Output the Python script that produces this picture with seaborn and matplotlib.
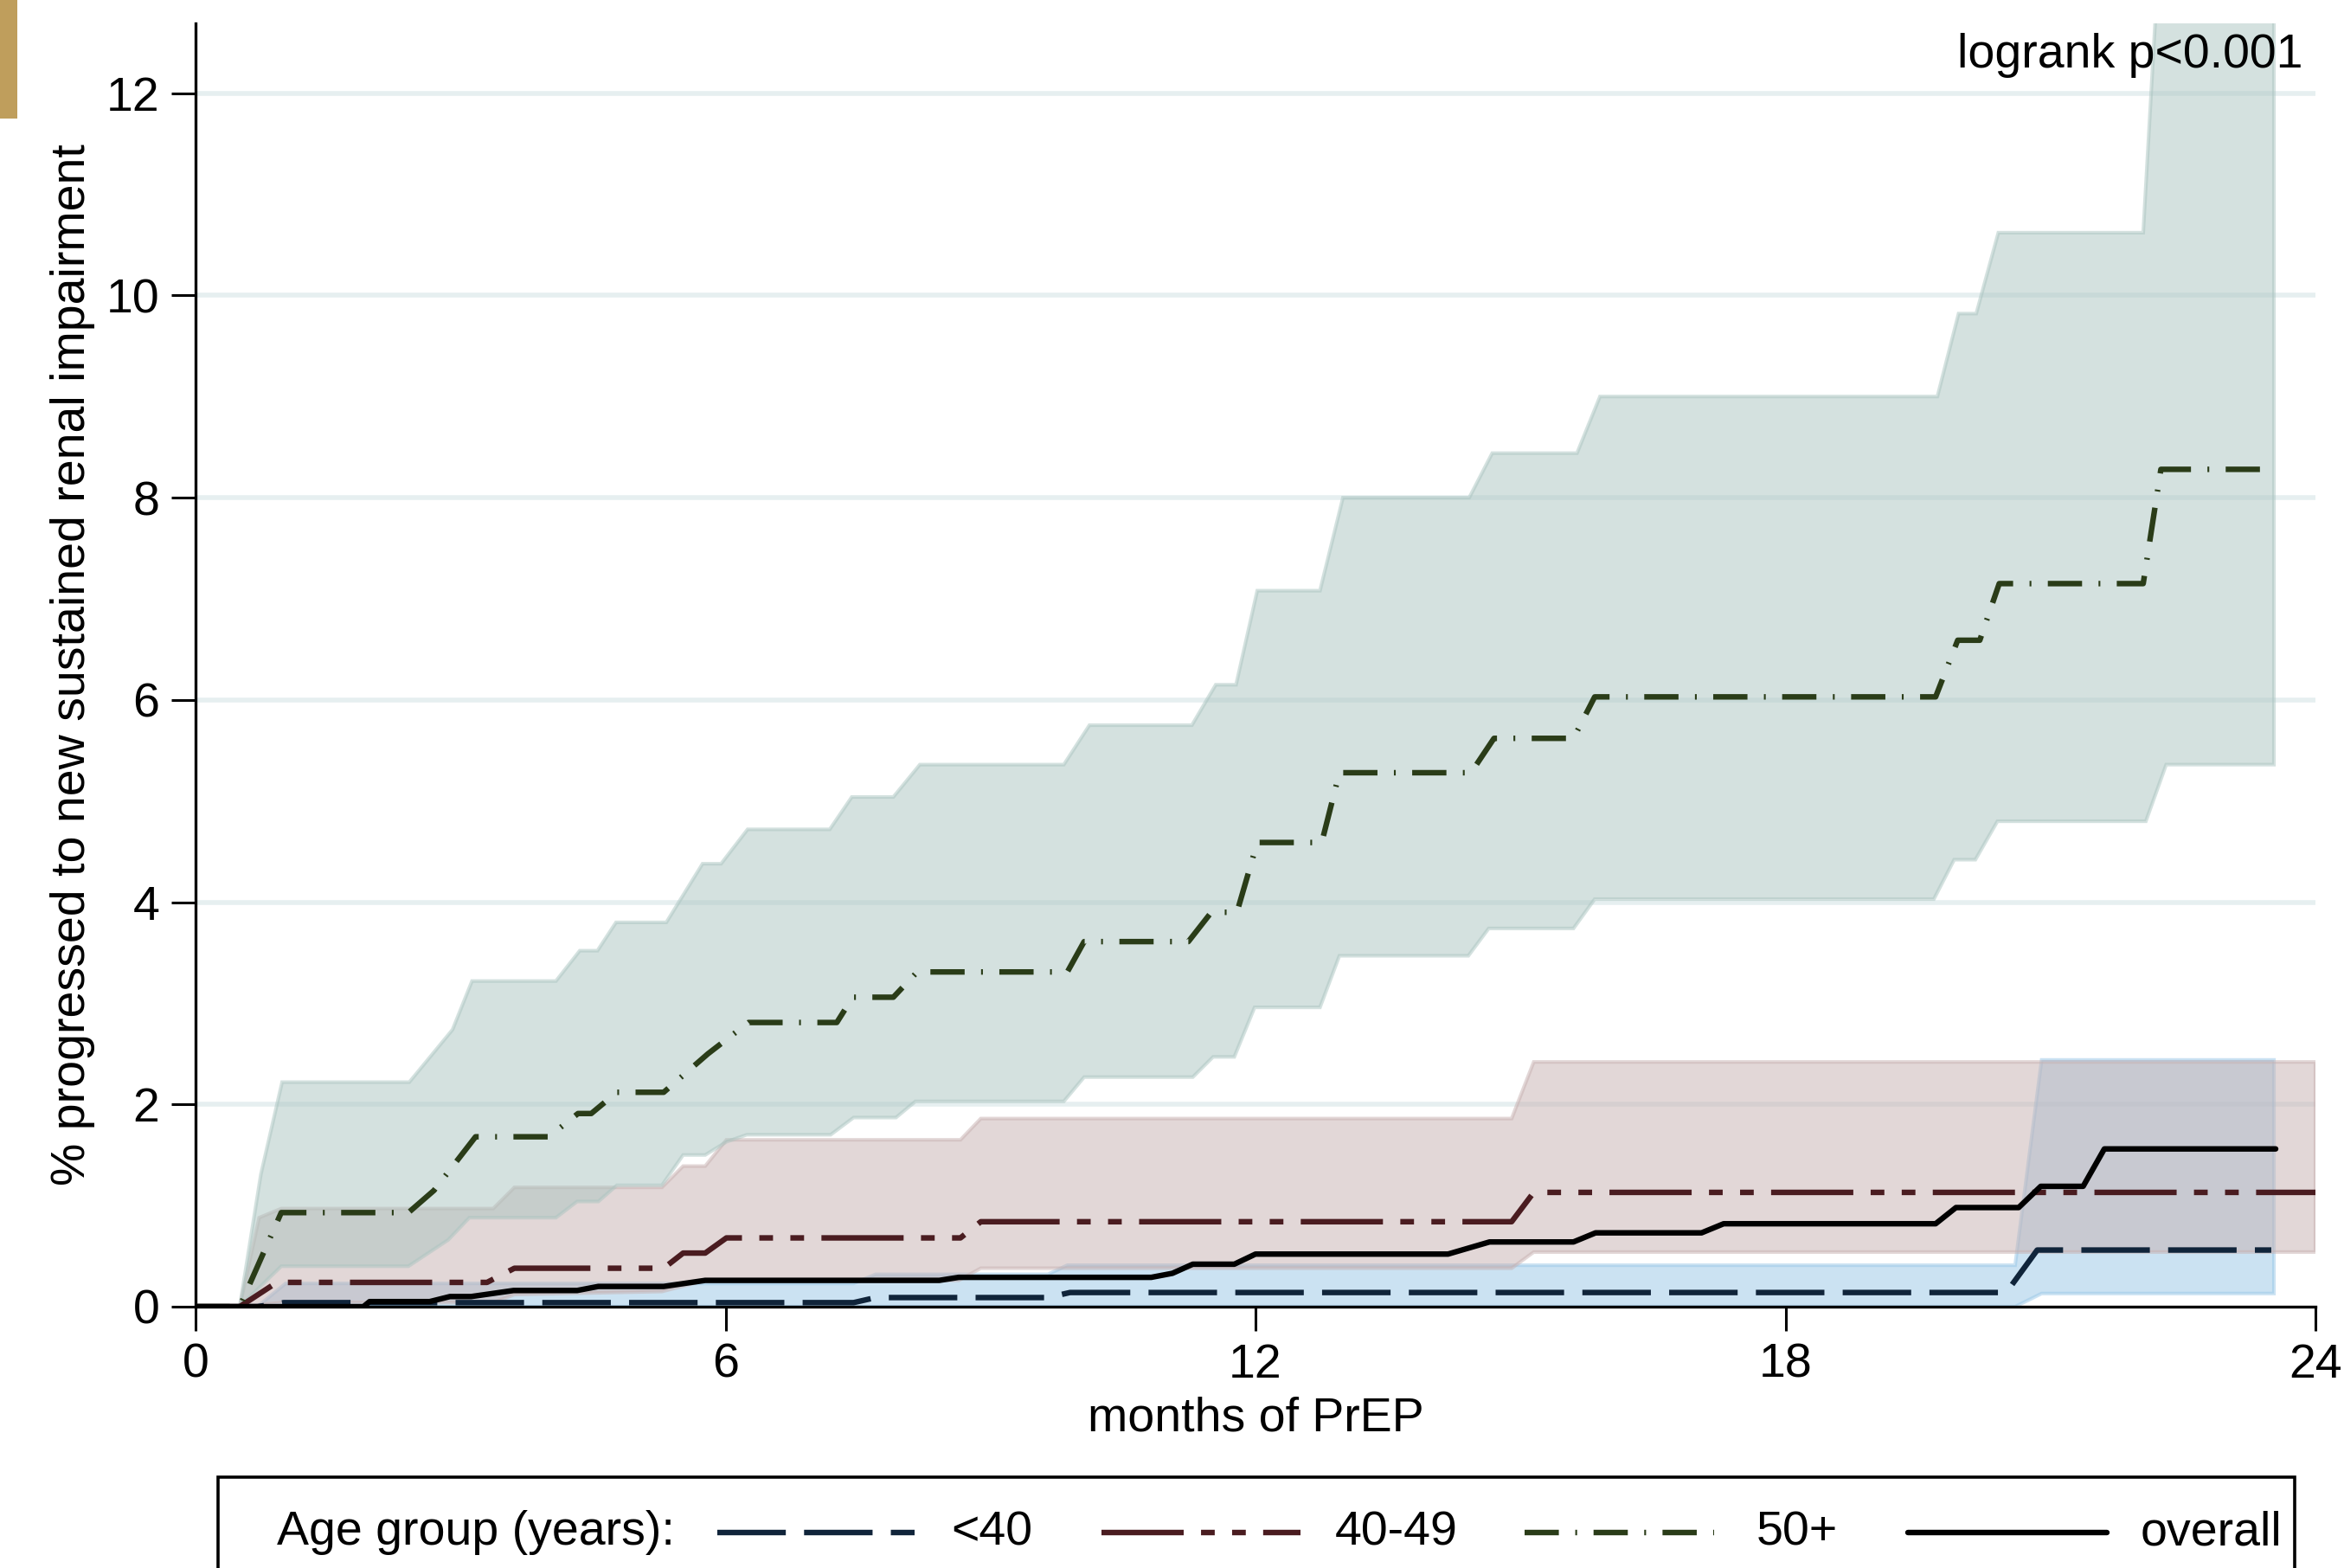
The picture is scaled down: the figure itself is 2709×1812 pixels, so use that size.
import matplotlib
matplotlib.use("Agg")
import matplotlib.pyplot as plt
import seaborn as sns
from matplotlib.lines import Line2D
from matplotlib.patches import Rectangle

# --- data ---
# Kaplan-Meier failure estimates, % progressed, by months of PrEP
time_lt40 = [0, 0.7, 1.0, 7.45, 7.7, 9.65, 9.9, 20.5, 20.85, 23.5]
pct_lt40 = [0, 0, 0.04, 0.04, 0.09, 0.09, 0.14, 0.14, 0.56, 0.56]

time_40s = [0, 0.5, 0.92, 3.3, 3.61, 5.3, 5.52, 5.77, 6.01, 8.66, 8.89, 14.9, 15.15, 24.0]
pct_40s = [0, 0, 0.24, 0.24, 0.38, 0.38, 0.53, 0.53, 0.68, 0.68, 0.84, 0.84, 1.13, 1.13]

time_50p = [0, 0.5, 0.97, 2.41, 2.7, 3.17, 4.0, 4.33, 4.48, 4.77, 5.3, 5.8, 6.26, 7.26,
            7.44, 7.9, 8.17, 9.87, 10.06, 11.24, 11.5, 11.79, 12.02, 12.75, 12.95, 14.44,
            14.7, 15.6, 15.84, 19.7, 19.95, 20.2, 20.42, 22.05, 22.25, 23.5]
pct_50p = [0, 0, 0.93, 0.93, 1.15, 1.68, 1.68, 1.91, 1.91, 2.12, 2.12, 2.5, 2.81, 2.81,
           3.06, 3.06, 3.31, 3.31, 3.61, 3.61, 3.9, 3.9, 4.59, 4.59, 5.28, 5.28,
           5.62, 5.62, 6.03, 6.03, 6.59, 6.59, 7.15, 7.15, 8.28, 8.28]

time_all = [0, 1.9, 1.97, 2.65, 2.88, 3.12, 3.6, 4.32, 4.56, 5.3, 5.77, 8.42, 8.64, 10.82,
            11.06, 11.29, 11.76, 12.0, 14.18, 14.65, 15.6, 15.85, 17.05, 17.3, 19.7, 19.93,
            20.64, 20.89, 21.37, 21.61, 23.55]
pct_all = [0, 0, 0.05, 0.05, 0.1, 0.1, 0.16, 0.16, 0.2, 0.2, 0.26, 0.26, 0.29, 0.29,
           0.33, 0.42, 0.42, 0.52, 0.52, 0.64, 0.64, 0.73, 0.73, 0.82, 0.82, 0.98,
           0.98, 1.19, 1.19, 1.56, 1.56]

# 95% confidence bands
ci_lt40_up_t = [0.7, 1.02, 7.45, 7.7, 9.65, 9.87, 20.6, 20.9, 23.53]
ci_lt40_up = [0, 0.23, 0.23, 0.32, 0.32, 0.41, 0.41, 2.44, 2.44]
ci_lt40_lo_t = [0.7, 20.6, 20.9, 23.53]
ci_lt40_lo = [0, 0, 0.13, 0.13]

ci_40s_up_t = [0.5, 0.72, 0.97, 3.37, 3.61, 5.28, 5.52, 5.77, 6.01, 8.66, 8.89, 14.9, 15.15, 24.0]
ci_40s_up = [0, 0.88, 0.97, 0.97, 1.18, 1.18, 1.39, 1.39, 1.65, 1.65, 1.86, 1.86, 2.42, 2.42]
ci_40s_lo_t = [0.5, 0.97, 3.37, 3.61, 5.28, 5.77, 8.64, 8.89, 14.9, 15.15, 24.0]
ci_40s_lo = [0, 0.04, 0.04, 0.12, 0.15, 0.26, 0.26, 0.38, 0.38, 0.54, 0.54]

ci_50p_up_t = [0.5, 0.74, 0.98, 2.42, 2.91, 3.13, 4.08, 4.35, 4.55, 4.76, 5.33, 5.74, 5.95,
               6.25, 7.18, 7.43, 7.9, 8.2, 9.83, 10.12, 11.28, 11.55, 11.78, 12.02, 12.73,
               12.99, 14.42, 14.68, 15.64, 15.9, 19.72, 19.96, 20.16, 20.41, 22.05, 22.27, 23.53]
ci_50p_up = [0, 1.31, 2.22, 2.22, 2.74, 3.22, 3.22, 3.52, 3.52, 3.8, 3.8, 4.38, 4.38,
             4.72, 4.72, 5.04, 5.04, 5.36, 5.36, 5.75, 5.75, 6.15, 6.15, 7.08, 7.08,
             8.0, 8.0, 8.44, 8.44, 9.0, 9.0, 9.82, 9.82, 10.62, 10.62, 14.0, 14.0]
ci_50p_lo_t = [0.5, 0.97, 2.41, 2.86, 3.1, 4.08, 4.32, 4.56, 4.77, 5.28, 5.52, 5.77, 6.01,
               6.24, 7.19, 7.45, 7.93, 8.15, 9.83, 10.06, 11.29, 11.52, 11.76, 11.99, 12.73,
               12.95, 14.41, 14.64, 15.6, 15.84, 19.68, 19.91, 20.15, 20.4, 22.08, 22.31, 23.53]
ci_50p_lo = [0, 0.40, 0.40, 0.66, 0.88, 0.88, 1.04, 1.04, 1.2, 1.2, 1.5, 1.5, 1.63,
             1.7, 1.7, 1.87, 1.87, 2.03, 2.03, 2.27, 2.27, 2.47, 2.47, 2.96, 2.96,
             3.47, 3.47, 3.74, 3.74, 4.03, 4.03, 4.42, 4.42, 4.8, 4.8, 5.36, 5.36]

Y_TICKS = [0, 2, 4, 6, 8, 10, 12]
X_TICKS = [0, 6, 12, 18, 24]

# --- styles ---
C_LT40, C_40S, C_50P, C_ALL = "#10243a", "#4a1c20", "#2a3c18", "#000000"
F_LT40, F_40S, F_50P = "#99c7e7", "#c7b1b1", "#abc5c1"
LW = 4.6
k = 3.8 / LW  # keep dash lengths in pixels while thickening the lines
LS_LT40 = (0, (15 * k, 4 * k))
LS_40S = (0, (18 * k, 3.8 * k, 3 * k, 3.8 * k, 3 * k, 3.8 * k))
LS_50P = (0, (7.5 * k, 3.6 * k, 0.4 * k, 3.6 * k))
FS = 40

sns.set_style("ticks")
plt.rcParams["font.family"] = ["Liberation Sans", "DejaVu Sans"]
plt.rcParams.update({"text.color": "black", "axes.labelcolor": "black",
                     "xtick.color": "black", "ytick.color": "black"})

W, H = 2709, 1812
fig = plt.figure(figsize=(W / 100, H / 100), dpi=100)
ax = fig.add_axes([226 / W, 1 - 1510 / H, (2676 - 226) / W, (1510 - 27) / H])

# gridlines under the bands
for yv in Y_TICKS[1:]:
    ax.axhline(yv, color="#e6eff0", lw=4, zorder=0)


def band(t_up, v_up, t_lo, v_lo, color):
    xs = list(t_up) + list(t_lo)[::-1]
    ys = list(v_up) + list(v_lo)[::-1]
    ax.fill(xs, ys, facecolor=color, edgecolor=color, alpha=0.5, lw=3, zorder=1)


band(ci_lt40_up_t, ci_lt40_up, ci_lt40_lo_t, ci_lt40_lo, F_LT40)
band(ci_40s_up_t, ci_40s_up, ci_40s_lo_t, ci_40s_lo, F_40S)
band(ci_50p_up_t, ci_50p_up, ci_50p_lo_t, ci_50p_lo, F_50P)

for t, p, c, ls in [
    (time_lt40, pct_lt40, C_LT40, LS_LT40),
    (time_40s, pct_40s, C_40S, LS_40S),
    (time_50p, pct_50p, C_50P, LS_50P),
    (time_all, pct_all, C_ALL, "-"),
]:
    sns.lineplot(x=t, y=p, ax=ax, color=c, linestyle=ls, linewidth=LW,
                 estimator=None, sort=False, zorder=3)

ax.set_xlim(0, 24)
ax.set_ylim(0, 12.69)
ax.set_xticks(X_TICKS)
ax.set_yticks(Y_TICKS)
ax.set_xticklabels([str(v) for v in X_TICKS], fontsize=FS)
ax.set_yticklabels([str(v) for v in Y_TICKS], fontsize=FS)
ax.tick_params(axis="both", direction="out", length=20, width=2.2, pad=10,
               color="black", labelcolor="black")
for side in ["top", "right"]:
    ax.spines[side].set_visible(False)
for side in ["left", "bottom"]:
    ax.spines[side].set_linewidth(2.4)
    ax.spines[side].set_color("black")

ax.set_xlabel("months of PrEP", fontsize=FS, color="black")
ax.xaxis.set_label_coords(0.5, -0.070)
ax.set_ylabel("% progressed to new sustained renal impairment", fontsize=FS, color="black")
ax.yaxis.set_label_coords(-0.0473, 0.5)

ax.text(0.9939, 0.975, "logrank p<0.001", transform=ax.transAxes, ha="right",
        va="center", fontsize=FS, color="black")

# tan tab at top-left corner
fig.add_artist(Rectangle((0, 1 - 137 / H), 20 / W, 137 / H, transform=fig.transFigure,
                         facecolor="#bf9e5c", edgecolor="none"))

# legend box (runs off the bottom edge)
fig.add_artist(Rectangle((252 / W, -0.2), (2652 - 252) / W, 0.2 + 1 - 1707 / H,
                         transform=fig.transFigure, facecolor="white",
                         edgecolor="black", lw=2.6, clip_on=False))
ly = 1 - 1771 / H
fig.text(320 / W, ly, "Age group (years):", fontsize=FS, va="center", ha="left", color="black")
legend_items = [
    (829, 1057, 1099, "<40", C_LT40, LS_LT40),
    (1273, 1503, 1543, "40-49", C_40S, LS_40S),
    (1762, 1981, 2030, "50+", C_50P, LS_50P),
    (2205, 2435, 2474, "overall", C_ALL, "-"),
]
for x0, x1, xt, lab, c, ls in legend_items:
    fig.add_artist(Line2D([x0 / W, x1 / W], [ly, ly], transform=fig.transFigure,
                          color=c, linestyle=ls, lw=LW))
    fig.text(xt / W, ly, lab, fontsize=FS, va="center", ha="left", color="black")

fig.savefig("out.png", dpi=100)
